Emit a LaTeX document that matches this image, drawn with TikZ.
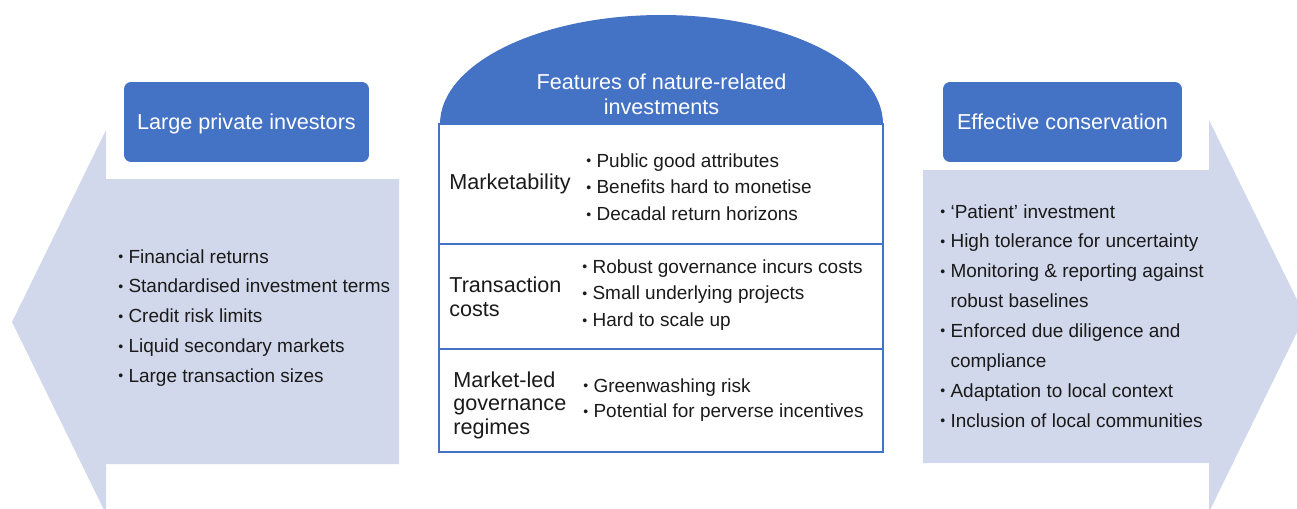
\documentclass[tikz,border=0pt]{standalone}
\usepackage{fontspec}
\setmainfont{Liberation Sans}
\usetikzlibrary{calc}
\definecolor{hdrblue}{HTML}{4472C4}
\definecolor{arrowfill}{HTML}{D2D8EB}
\definecolor{txt}{HTML}{1A1A1A}
\newcommand{\bul}{\raisebox{0.15ex}{\footnotesize\textbullet}}
\tikzset{
	hdr/.style={fill=hdrblue, rounded corners=4pt, text=white, text depth=0pt, font=\fontsize{12.3}{14}\selectfont},
	tblline/.style={draw=hdrblue, line width=0.7pt},
	pts/.style={anchor=base west, inner sep=0pt, text=txt, font=\fontsize{10.8}{#1}\selectfont},
	pts/.default=17,
	rowlbl/.style={anchor=base west, inner sep=0pt, text=txt, font=\fontsize{12.3}{#1}\selectfont},
	rowlbl/.default=14
}

\begin{document}
\begin{tikzpicture}[x=0.02cm, y=0.02cm]
	\useasboundingbox (0,0) rectangle (1297,508);
	% the two big arrows
	\fill[arrowfill] (12,186) -- (106,378) -- (106,329) -- (399,329) -- (399,44) -- (106,44) -- (106,-6) -- cycle;
	\fill[arrowfill] (923,338) -- (1209,338) -- (1209,388) -- (1305,192) -- (1209,-4) -- (1209,45) -- (923,45) -- cycle;
	% headings
	\node[hdr, minimum width=4.9cm, minimum height=1.6cm] (investors) at (246.5,386) {Large private investors};
	\node[hdr, minimum width=4.78cm, minimum height=1.6cm] (conservation) at (1062.5,386) {Effective conservation};
	% dome on top of the table
	\fill[hdrblue] (440,384) arc[start angle=180, end angle=0, x radius=221.5, y radius=109] -- cycle;
	\node[text=white, font=\fontsize{12.3}{14}\selectfont, align=center] (features) at (661.5,414) {Features of nature-related\\investments};
	% table with three rows
	\draw[tblline] (439,56) rectangle (883,384);
	\draw[tblline] (439,264) -- (883,264);
	\draw[tblline] (439,159) -- (883,159);
	% row labels
	\node[rowlbl] (mkt) at (449,319) {Marketability};
	\node[rowlbl=14.2] (trans) at (449,216) {\begin{tabular}[t]{@{}l@{}}Transaction\\costs\end{tabular}};
	\node[rowlbl=13.6] (gov) at (453,121) {\begin{tabular}[t]{@{}l@{}}Market-led\\governance\\regimes\end{tabular}};
	% row bullets
	\node[pts=15.3] (mktpts) at (586,341) {\begin{tabular}[t]{@{}l@{\hspace{3pt}}l@{}}
		\bul & Public good attributes\\
		\bul & Benefits hard to monetise\\
		\bul & Decadal return horizons
	\end{tabular}};
	\node[pts=15.3] (transpts) at (582,235) {\begin{tabular}[t]{@{}l@{\hspace{3pt}}l@{}}
		\bul & Robust governance incurs costs\\
		\bul & Small underlying projects\\
		\bul & Hard to scale up
	\end{tabular}};
	\node[pts=14.7] (govpts) at (583,116) {\begin{tabular}[t]{@{}l@{\hspace{3pt}}l@{}}
		\bul & Greenwashing risk\\
		\bul & Potential for perverse incentives
	\end{tabular}};
	% arrow contents
	\node[pts] (invpts) at (118,245) {\begin{tabular}[t]{@{}l@{\hspace{3pt}}l@{}}
		\bul & Financial returns\\
		\bul & Standardised investment terms\\
		\bul & Credit risk limits\\
		\bul & Liquid secondary markets\\
		\bul & Large transaction sizes
	\end{tabular}};
	\node[pts] (conspts) at (940,290) {\begin{tabular}[t]{@{}l@{\hspace{3pt}}l@{}}
		\bul & ‘Patient’ investment\\
		\bul & High tolerance for uncertainty\\
		\bul & Monitoring \& reporting against\\
		    & robust baselines\\
		\bul & Enforced due diligence and\\
		    & compliance\\
		\bul & Adaptation to local context\\
		\bul & Inclusion of local communities
	\end{tabular}};
\end{tikzpicture}
\end{document}
